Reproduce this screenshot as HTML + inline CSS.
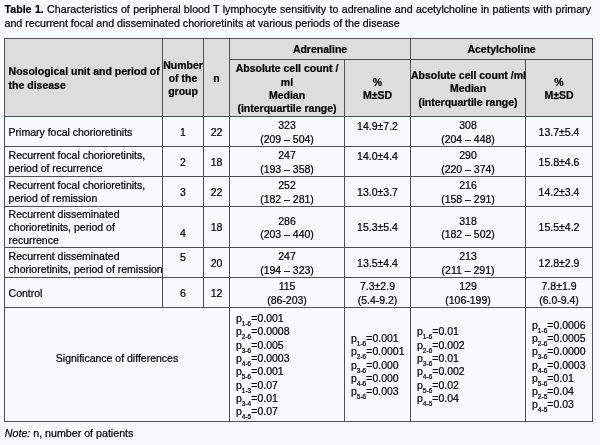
<!DOCTYPE html>
<html><head><meta charset="utf-8">
<style>
html,body{margin:0;padding:0;}
body{width:600px;height:445px;background:#f7fbfc;font-family:"Liberation Sans",sans-serif;font-size:10.5px;color:#000;overflow:hidden;position:relative;}
#w{position:absolute;left:0;top:0;width:600px;height:445px;will-change:transform;-webkit-text-stroke:0.22px #000;}
.cap{position:absolute;left:4.5px;top:2.3px;width:586.5px;font-size:10.67px;line-height:14px;text-align:justify;}
table{position:absolute;left:4px;top:38px;border-collapse:collapse;table-layout:fixed;width:588px;}
td,th{border:1px solid #505050;padding:1px 0 0 0;text-align:center;vertical-align:middle;font-size:10.5px;line-height:13.3px;font-weight:normal;white-space:nowrap;}
th{background:#dddddd;font-weight:bold;font-size:10.5px;padding-top:2px;}
td{padding-top:2px;}
td.l,th.l{text-align:left;padding-left:3.6px;}
td.l{line-height:13px;padding-top:1px;}
td.pv{text-align:left;padding-left:6px;padding-top:1.5px;}
td.t{vertical-align:top;padding-top:3px;}
.p{display:inline-block;text-align:left;}
sub{font-size:6.5px;vertical-align:baseline;position:relative;top:4px;line-height:0;}
.note{position:absolute;left:4.8px;top:426.7px;font-size:10.67px;line-height:13px;}
</style></head><body><div id="w">
<div class="cap"><b>Table 1.</b> Characteristics of peripheral blood T lymphocyte sensitivity to adrenaline and acetylcholine in patients with primary and recurrent focal and disseminated chorioretinits at various periods of the disease</div>
<table>
<colgroup><col style="width:158px"><col style="width:41px"><col style="width:26px"><col style="width:115px"><col style="width:66px"><col style="width:115px"><col style="width:67px"></colgroup>
<tr style="height:21px"><th class="l" rowspan="2">Nosological unit and period of<br>the disease</th><th rowspan="2">Number<br>of the<br>group</th><th rowspan="2">n</th><th colspan="2">Adrenaline</th><th colspan="2">Acetylcholine</th></tr>
<tr style="height:57px"><th>Absolute cell count /<br>ml<br>Median<br>(interquartile range)</th><th>%<br>M±SD</th><th>Absolute cell count /ml<br>Median<br>(interquartile range)</th><th>%<br>M±SD</th></tr>
<tr style="height:30px"><td class="l">Primary focal chorioretinits</td><td>1</td><td>22</td><td>323<br>(209 – 504)</td><td class="t">14.9±7.2</td><td>308<br>(204 – 448)</td><td>13.7±5.4</td></tr>
<tr style="height:30px"><td class="l">Recurrent focal chorioretinits,<br>period of recurrence</td><td>2</td><td>18</td><td>247<br>(193 – 358)</td><td class="t">14.0±4.4</td><td>290<br>(220 – 374)</td><td>15.8±4.6</td></tr>
<tr style="height:30px"><td class="l">Recurrent focal chorioretinits,<br>period of remission</td><td>3</td><td>22</td><td>252<br>(182 – 281)</td><td>13.0±3.7</td><td>216<br>(158 – 291)</td><td>14.2±3.4</td></tr>
<tr style="height:41px"><td class="l">Recurrent disseminated<br>chorioretinits, period of<br>recurrence</td><td style="padding-top:14px">4</td><td>18</td><td>286<br>(203 – 440)</td><td>15.3±5.4</td><td>318<br>(182 – 502)</td><td>15.5±4.2</td></tr>
<tr style="height:30px"><td class="l">Recurrent disseminated<br>chorioretinits, period of remission</td><td class="t">5</td><td>20</td><td>247<br>(194 – 323)</td><td>13.5±4.4</td><td>213<br>(211 – 291)</td><td>12.8±2.9</td></tr>
<tr style="height:30px"><td class="l">Control</td><td>6</td><td>12</td><td>115<br>(86-203)</td><td>7.3±2.9<br>(5.4-9.2)</td><td>129<br>(106-199)</td><td>7.8±1.9<br>(6.0-9.4)</td></tr>
<tr style="height:114px"><td colspan="3" style="padding-bottom:13px">Significance of differences</td>
<td class="pv"><span class="p">p<sub>1-6</sub>=0.001<br>p<sub>2-6</sub>=0.0008<br>p<sub>3-6</sub>=0.005<br>p<sub>4-6</sub>=0.0003<br>p<sub>5-6</sub>=0.001<br>p<sub>1-3</sub>=0.07<br>p<sub>3-4</sub>=0.01<br>p<sub>4-5</sub>=0.07</span></td>
<td class="pv"><span class="p">p<sub>1-6</sub>=0.001<br>p<sub>2-6</sub>=0.0001<br>p<sub>3-6</sub>=0.000<br>p<sub>4-6</sub>=0.000<br>p<sub>5-6</sub>=0.003</span></td>
<td class="pv"><span class="p">p<sub>1-6</sub>=0.01<br>p<sub>2-6</sub>=0.002<br>p<sub>3-6</sub>=0.01<br>p<sub>4-6</sub>=0.002<br>p<sub>5-6</sub>=0.02<br>p<sub>4-5</sub>=0.04</span></td>
<td class="pv"><span class="p">p<sub>1-6</sub>=0.0006<br>p<sub>2-6</sub>=0.0005<br>p<sub>3-6</sub>=0.0000<br>p<sub>4-6</sub>=0.0003<br>p<sub>5-6</sub>=0.01<br>p<sub>2-5</sub>=0.04<br>p<sub>4-5</sub>=0.03</span></td></tr>
</table>
<div class="note"><i>Note:</i> n, number of patients</div>
</div></body></html>
